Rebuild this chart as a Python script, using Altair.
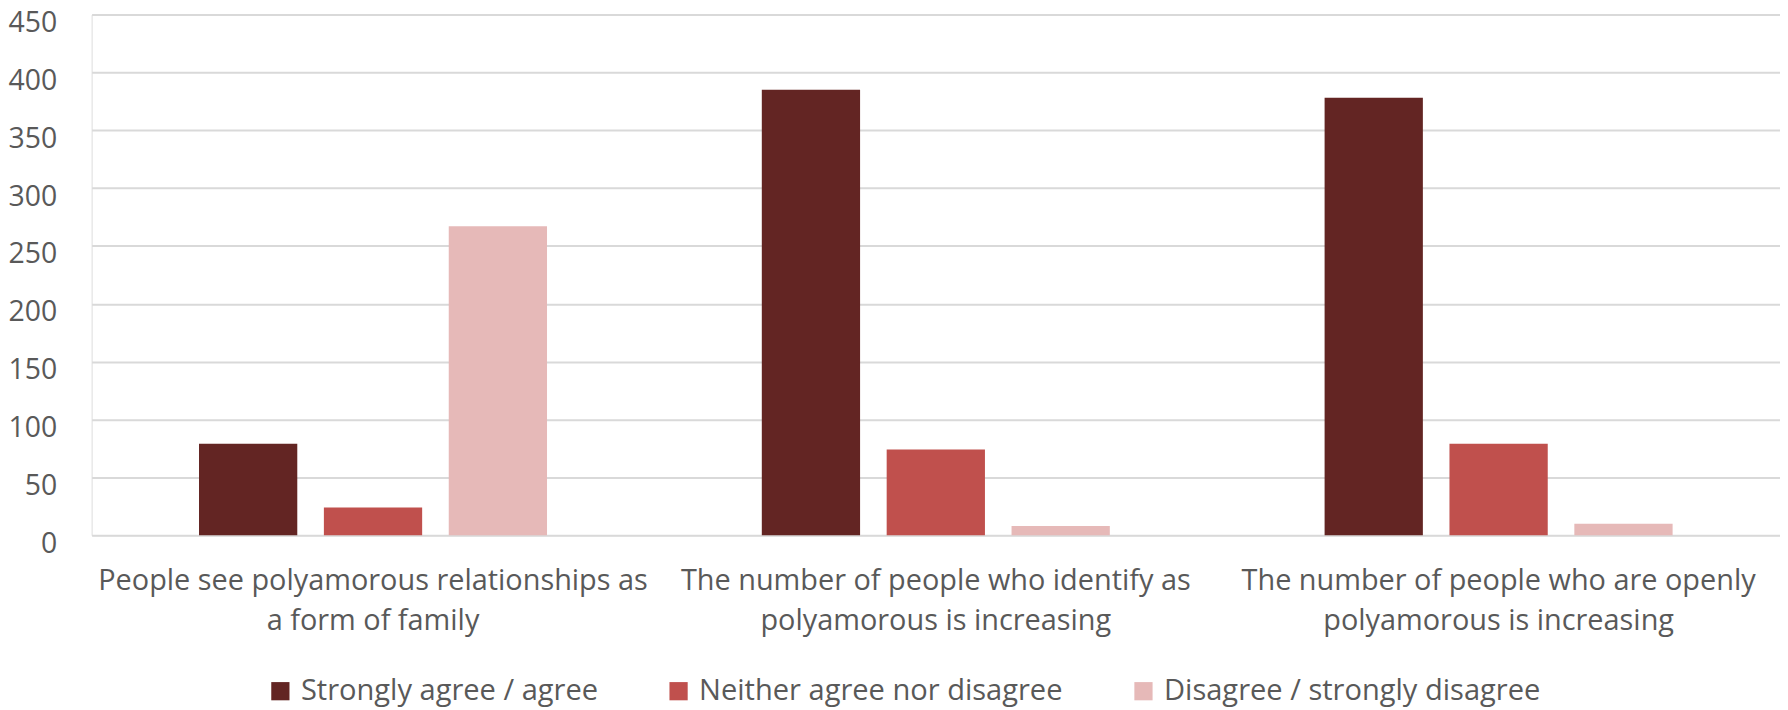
import altair as alt
import pandas as pd

# ---- data ----
categories = [
    ["People see polyamorous relationships as", "a form of family"],
    ["The number of people who identify as", "polyamorous is increasing"],
    ["The number of people who are openly", "polyamorous is increasing"],
]
series = ["Strongly agree / agree", "Neither agree nor disagree", "Disagree / strongly disagree"]
agree = [79, 385, 378]
neither = [24, 74, 79]
disagree = [267, 8, 10]
colors = ["#632523", "#C0504D", "#E6B9B8"]
y_ticks = [0, 50, 100, 150, 200, 250, 300, 350, 400, 450]

labels = ["\n".join(c) for c in categories]
rows = []
for s, vals in zip(series, [agree, neither, disagree]):
    for lab, v in zip(labels, vals):
        rows.append({"question": lab, "response": s, "count": v})
df = pd.DataFrame(rows)

FONT = "Open Sans"
TEXT = "#595959"
FS = 29

chart = alt.Chart(df).mark_bar().encode(
    x=alt.X(
        "question:N",
        sort=labels,
        scale=alt.Scale(paddingInner=0, paddingOuter=0),
        axis=alt.Axis(
            title=None, labelAngle=0, ticks=False, domain=False,
            labelExpr="split(datum.label, '\\n')",
            labelFont=FONT, labelFontSize=FS, labelColor=TEXT,
            labelLineHeight=40, labelPadding=32, labelLimit=1000,
        ),
    ),
    xOffset=alt.XOffset(
        "response:N", sort=series,
        scale=alt.Scale(paddingInner=0.213, paddingOuter=0.86),
    ),
    y=alt.Y(
        "count:Q",
        scale=alt.Scale(domain=[0, 450], nice=False),
        axis=alt.Axis(
            title=None, values=y_ticks, ticks=False, domain=False,
            grid=True, gridColor="#D9D9D9", gridWidth=2,
            labelFont=FONT, labelFontSize=28.5, labelColor=TEXT,
            labelPadding=35, labelOffset=8,
        ),
    ),
    color=alt.Color(
        "response:N", sort=series,
        scale=alt.Scale(domain=series, range=colors),
        legend=alt.Legend(
            title=None, orient="none", legendX=175, legendY=665,
            direction="horizontal", symbolType="square", symbolSize=335,
            symbolStrokeWidth=0, labelFont=FONT, labelFontSize=29.2, labelColor=TEXT,
            labelOffset=6, columnPadding=66, padding=0, labelLimit=1000,
        ),
    ),
).properties(
    width=1696, height=523,
    padding={"left": 84, "top": 5, "right": 0, "bottom": 174},
    autosize=alt.AutoSizeParams(type="none"),
).configure_view(stroke=None).configure(font=FONT)

chart.save("out.html", embed_options={"renderer": "svg", "actions": False})
